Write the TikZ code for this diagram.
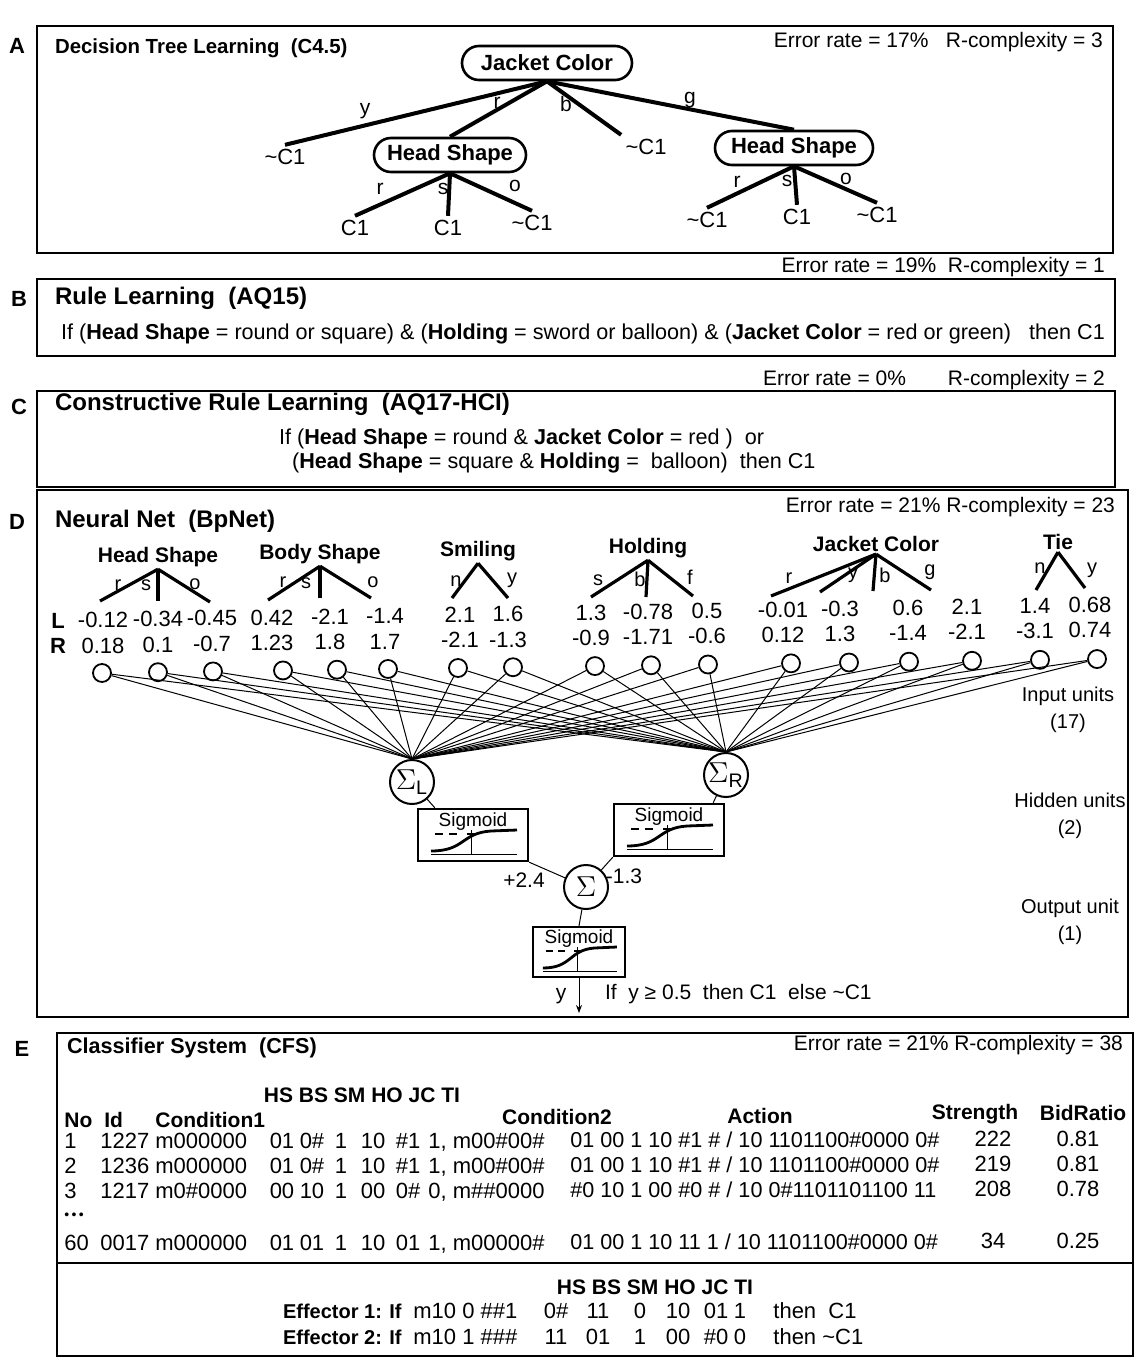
\documentclass[tikz,border=0pt]{standalone}
\usepackage{fontspec}
\setmainfont{Liberation Sans}
\usetikzlibrary{arrows.meta}

\newcommand\notC{\textasciitilde C1}
% inside of a sigmoid box, drawn round the box centre
\newcommand\sigmoidmarks[2]{%
  \begin{scope}[shift={(#1)},xscale=#2]
    \node[sigtext] at (0,-13) {Sigmoid};
    \draw[line width=0.5pt] (-42,19) -- (44,19);
    \draw[line width=0.5pt] (-2,19) -- (-2,-5);
    \draw[line width=0.6pt] (-38,-1) -- (-30,-1) (-24,-1) -- (-16,-1) (-6,-1) -- (2,-1);
    \draw[line width=1.4pt] (-42,16) .. controls (-8,16) and (-12,-2) .. (18,-4) -- (44,-5);
  \end{scope}}

\tikzset{
  panel/.style={line width=1.3pt},
  tag/.style={font=\bfseries\fontsize{11}{13}\selectfont,inner sep=1pt},
  ttl/.style={anchor=west,font=\bfseries\fontsize{12}{14}\selectfont},
  err/.style={anchor=east,font=\fontsize{10.5}{12}\selectfont},
  rule/.style={anchor=west,font=\fontsize{10.8}{13}\selectfont},
  tnode/.style={draw,line width=1.3pt,rounded corners=8.5pt,minimum height=17pt,font=\bfseries\fontsize{11}{13}\selectfont},
  leaf/.style={font=\fontsize{11}{13}\selectfont,inner sep=2pt},
  branch/.style={line width=2pt},
  blbl/.style={font=\fontsize{10.5}{12}\selectfont,inner sep=1pt},
  attr/.style={font=\bfseries\fontsize{10.5}{12}\selectfont,inner sep=1pt},
  fan/.style={line width=1.6pt},
  flbl/.style={font=\fontsize{10}{12}\selectfont,inner sep=0pt},
  val/.style={font=\fontsize{11}{13}\selectfont,inner sep=0pt},
  unit/.style={circle,draw,line width=0.9pt,minimum size=9pt,inner sep=0pt},
  hid/.style={circle,draw,line width=1pt,minimum size=22pt,inner sep=0pt,font=\fontsize{14}{16}\selectfont},
  sig/.style={draw,line width=1.2pt,minimum width=55pt,minimum height=26pt},
  sigtext/.style={font=\fontsize{9.5}{11}\selectfont,inner sep=0pt},
  wire/.style={line width=0.5pt},
  note/.style={align=center,font=\fontsize{10}{13.5}\selectfont},
  cell/.style={font=\fontsize{11}{13}\selectfont,inner sep=0pt},
  hdr/.style={font=\bfseries\fontsize{10.5}{12}\selectfont,inner sep=0pt},
}

\begin{document}
\begin{tikzpicture}[x=0.5pt,y=-0.5pt]
\useasboundingbox (0,0) rectangle (1138,1366);

% A: decision tree
\draw[panel] (37,26) rectangle (1113,253);
\node[tag] (tA) at (17,46) {A};
\node[ttl,font=\bfseries\fontsize{10.2}{12}\selectfont] (hA) at (48,48) {Decision Tree Learning\ \ (C4.5)};
\node[err] (eA) at (1110,42) {Error rate = 17\%\ \ \ R-complexity = 3};
\node[tnode,minimum width=85pt] (jc) at (547,63) {Jacket Color};
\node[tnode,minimum width=76pt] (hs1) at (450,155) {Head Shape};
\node[tnode,minimum width=79pt] (hs2) at (794,148) {Head Shape};
\node[leaf] (ly) at (285,157) {\notC};
\node[leaf] (lb) at (646,147) {\notC};
\node[leaf] (l1) at (355,228) {C1};
\node[leaf] (l2) at (448,228) {C1};
\node[leaf] (l3) at (532,223) {\notC};
\node[leaf] (l4) at (707,220) {\notC};
\node[leaf] (l5) at (797,217) {C1};
\node[leaf] (l6) at (877,215) {\notC};
\draw[branch] (jc.south) -- (ly.north);
\draw[branch] (jc.south) -- (hs1.north);
\draw[branch] (jc.south) -- (lb.north west);
\draw[branch] (jc.south) -- (hs2.north);
\draw[branch] (hs1.south) -- (l1.north);
\draw[branch] (hs1.south) -- (l2.north);
\draw[branch] (hs1.south) -- (l3.north);
\draw[branch] (hs2.south) -- (l4.north);
\draw[branch] (hs2.south) -- (l5.north);
\draw[branch] (hs2.south) -- (l6.north);
\node[blbl] (by) at (365,111) {y};
\node[blbl] (br) at (497,103) {r};
\node[blbl] (bb) at (566,104) {b};
\node[blbl] (bg) at (690,100) {g};
\node[blbl] (b1r) at (380,189) {r};
\node[blbl] (b1s) at (443,189) {s};
\node[blbl] (b1o) at (515,186) {o};
\node[blbl] (b2r) at (737,182) {r};
\node[blbl] (b2s) at (787,181) {s};
\node[blbl] (b2o) at (846,179) {o};

% B: rule learning
\draw[panel] (37,279) rectangle (1115,356);
\node[tag] (tB) at (19,299) {B};
\node[ttl] (hB) at (48,298) {Rule Learning\ \ (AQ15)};
\node[err] (eB) at (1112,267) {Error rate = 19\%\ \ R-complexity = 1};
\node[rule] (rB) at (54,334) {If (\textbf{Head Shape} = round or square) \& (\textbf{Holding} = sword or balloon) \& (\textbf{Jacket Color} = red or green)\ \ \ then C1};

% C: constructive rule learning
\draw[panel] (37,391) rectangle (1115,487);
\node[tag] (tC) at (19,407) {C};
\node[ttl] (hC) at (48,404) {Constructive Rule Learning\ \ (AQ17-HCI)};
\node[err] (eC) at (1112,380) {Error rate = 0\%\qquad R-complexity = 2};
\node[rule] (rC1) at (272,439) {If (\textbf{Head Shape} = round \& \textbf{Jacket Color} = red )\ \ or};
\node[rule] (rC2) at (285,463) {(\textbf{Head Shape} = square \& \textbf{Holding} =\ \ balloon)\ \ then C1};

% D: neural net
\draw[panel] (37,490) rectangle (1128,1017);
\node[tag] (tD) at (17,522) {D};
\node[ttl] (hD) at (48,521) {Neural Net\ \ (BpNet)};
\node[err] (eD) at (1122,507) {Error rate = 21\% R-complexity = 23};
\node[attr] (aHS) at (158,557) {Head Shape};
\node[attr] (aBS) at (320,554) {Body Shape};
\node[attr] (aSM) at (478,551) {Smiling};
\node[attr] (aHO) at (648,548) {Holding};
\node[attr] (aJC) at (876,544) {Jacket Color};
\node[attr] (aTI) at (1058,542) {Tie};
\foreach \n/\x/\y in {fhr/100/601, fhs/158/601, fho/210/602, fbr/268/600, fbs/320/598, fbo/371/598,
    fsn/452/598, fsy/508/598, fos/591/597, fob/646/597, fof/693/596,
    fjr/771/596, fjy/820/592, fjb/873/591, fjg/931/590, ftn/1036/590, fty/1085/588}
  \coordinate (\n) at (\x,\y);
\foreach \a/\e in {aHS/fhr, aHS/fhs, aHS/fho, aBS/fbr, aBS/fbs, aBS/fbo, aSM/fsn, aSM/fsy,
    aHO/fos, aHO/fob, aHO/fof, aJC/fjr, aJC/fjy, aJC/fjb, aJC/fjg, aTI/ftn, aTI/fty}
  \draw[fan] (\a.south) -- (\e);
\foreach \t/\x/\y [count=\i] in {r/118/585, s/146/585, o/195/584, r/283/582, s/306/583, o/373/582,
    n/456/581, y/512/580, s/598/580, b/640/579, f/690/577,
    r/789/578, y/853/575, b/885/575, g/930/572, n/1040/568, y/1092/570}
  \node[flbl] (fl\i) at (\x,\y) {\t};
\node[tag] (tL) at (58,621) {L};
\node[tag] (tR) at (58,646) {R};
\foreach \cx/\vx/\l/\r [count=\i] in {102/103/-0.12/0.18, 158/158/-0.34/0.1, 213/212/-0.45/-0.7,
    283/272/0.42/1.23, 337/330/-2.1/1.8, 388/385/-1.4/1.7, 458/460/2.1/-2.1, 513/508/1.6/-1.3,
    595/591/1.3/-0.9, 651/648/-0.78/-1.71, 708/707/0.5/-0.6, 791/783/-0.01/0.12, 849/840/-0.3/1.3,
    909/908/0.6/-1.4, 972/967/2.1/-2.1, 1040/1035/1.4/-3.1, 1097/1090/0.68/0.74} {
  \node[val] (vl\i) at (\vx,{620-0.015*(\vx-100)}) {\l};
  \node[val] (vr\i) at (\vx,{646-0.016*(\vx-100)}) {\r};
  \node[unit] (in\i) at (\cx,{673-0.014*(\cx-100)}) {};
}
\node[hid] (sl) at (412,782) {$\Sigma$\textsubscript{L}};
\node[hid] (sr) at (726,775) {$\Sigma$\textsubscript{R}};
\foreach \i in {1,...,17} {
  \draw[wire] (in\i) -- (sl.north);
  \draw[wire] (in\i) -- (sr.north);
}
\node[sig] (sgL) at (473,835) {};
\node[sig] (sgR) at (669,830) {};
\node[hid] (so) at (586,887) {$\Sigma$};
\node[sig,minimum width=46pt,minimum height=25pt] (sgO) at (579,952) {};
\sigmoidmarks{sgL}{1}
\sigmoidmarks{sgR}{1}
\sigmoidmarks{sgO}{0.86}
\draw[wire] (sl) -- ([xshift=9pt]sgL.north west);
\draw[wire] (sr) -- ([xshift=-6pt]sgR.north east);
\draw[wire] (sgL.south east) -- (so);
\draw[wire] (sgR.south west) -- (so);
\draw[wire] (so) -- (sgO.north);
\coordinate (yout) at (579,1013);
\draw[wire,-{Stealth[length=4pt,width=3pt]}] (sgO.south) -- (yout);
\node[blbl] (wl) at (524,880) {+2.4};
\node[blbl] (wr) at (624,876) {-1.3};
\node[blbl] (ylab) at (561,996) {y};
\node[rule,font=\fontsize{10.5}{12}\selectfont] (dec) at (598,994) {If\ \ y ≥ 0.5\ \ then C1\ \ else \notC};
\node[note] (nIn) at (1068,710) {Input units\\(17)};
\node[note] (nHid) at (1070,816) {Hidden units\\(2)};
\node[note] (nOut) at (1070,922) {Output unit\\(1)};

% E: classifier system
\draw[panel] (57,1033) rectangle (1133,1356);
\node[tag] (tE) at (22,1049) {E};
\node[ttl,font=\bfseries\fontsize{10.8}{13}\selectfont] (hE) at (60,1048) {Classifier System\ \ (CFS)};
\node[err] (eE) at (1130,1045) {Error rate = 21\% R-complexity = 38};
\node[hdr] (fields1) at (362,1095) {HS BS SM HO JC TI};
\node[hdr,anchor=west] (cNo) at (64,1120) {No};
\node[hdr,anchor=west] (cId) at (104,1120) {Id};
\node[hdr,anchor=west] (cC1) at (155,1120) {Condition1};
\node[hdr] (cC2) at (557,1117) {Condition2};
\node[hdr] (cAc) at (760,1116) {Action};
\node[hdr] (cSt) at (975,1114) {Strength};
\node[hdr] (cBr) at (1083,1113) {BidRatio};
\foreach \yy/\no/\id/\ca/\hs/\bs/\sm/\ho/\jc/\cb/\cc/\act/\st/\br [count=\i] in {
    1148/1/1227/m000000/01/0\#/1/10/\#1/{1, m00\#00\#}/{01 00 1 10 \#1 \#}/{10 1101100\#0000 0\#}/222/0.81,
    1173/2/1236/m000000/01/0\#/1/10/\#1/{1, m00\#00\#}/{01 00 1 10 \#1 \#}/{10 1101100\#0000 0\#}/219/0.81,
    1198/3/1217/m0\#0000/00/10/1/00/0\#/{0, m\#\#0000}/{\#0 10 1 00 \#0 \#}/{10 0\#1101101100 11}/208/0.78,
    1250/60/0017/m000000/01/01/1/10/01/{1, m00000\#}/{01 00 1 10 11 1}/{10 1101100\#0000 0\#}/34/0.25} {
  \node[cell,anchor=base west] (no\i) at (64,\yy) {\no};
  \node[cell,anchor=base west] (id\i) at (100,\yy) {\id};
  \node[cell,anchor=base west] (ca\i) at (155,\yy) {\ca};
  \node[cell,anchor=base] (hs\i) at (282,\yy) {\hs};
  \node[cell,anchor=base] (bs\i) at (312,\yy) {\bs};
  \node[cell,anchor=base] (sm\i) at (341,\yy) {\sm};
  \node[cell,anchor=base] (ho\i) at (373,\yy) {\ho};
  \node[cell,anchor=base] (jc\i) at (408,\yy) {\jc};
  \node[cell,anchor=base west] (cb\i) at (428,\yy) {\cb};
  \node[cell,anchor=base west,font=\fontsize{10.8}{13}\selectfont] (cc\i) at (570,\yy-1) {\cc{} / \act};
  \node[cell,anchor=base] (st\i) at (993,\yy-2) {\st};
  \node[cell,anchor=base] (br\i) at (1078,\yy-2) {\br};
}
\node[cell,anchor=west] (dots) at (64,1216) {\fontsize{7}{8}\selectfont\textbullet\,\textbullet\,\textbullet};
\draw[panel] (57,1263) -- (1133,1263);
\node[hdr] (fields2) at (655,1287) {HS BS SM HO JC TI};
\node[hdr,anchor=base east,font=\bfseries\fontsize{10}{12}\selectfont] (ef1) at (402,1318) {Effector 1: If};
\node[cell,anchor=base west] (ep1) at (413,1318) {m10 0 \#\#1};
\node[hdr,anchor=base east,font=\bfseries\fontsize{10}{12}\selectfont] (ef2) at (402,1344) {Effector 2: If};
\node[cell,anchor=base west] (ep2) at (413,1344) {m10 1 \#\#\#};
\foreach \cx/\a/\b [count=\i] in {556/0\#/11, 598/11/01, 640/0/1, 678/10/00, 716/01/\#0, 740/1/0} {
  \node[cell,anchor=base] (ea\i) at (\cx,1318) {\a};
  \node[cell,anchor=base] (eb\i) at (\cx,1344) {\b};
}
\node[cell,anchor=base west] (et1) at (773,1318) {then\ \ C1};
\node[cell,anchor=base west] (et2) at (773,1344) {then \notC};
\end{tikzpicture}
\end{document}
